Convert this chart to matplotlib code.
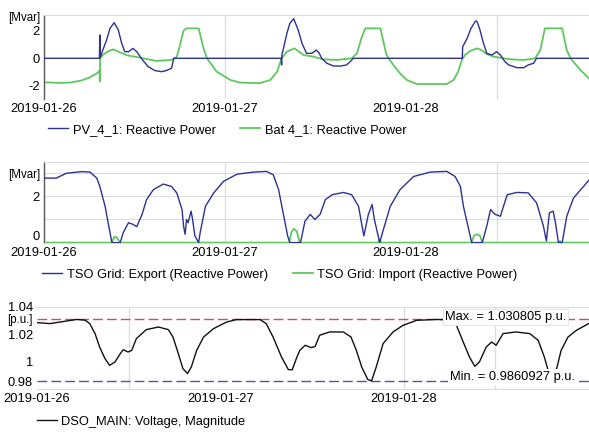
import numpy as np
import matplotlib
matplotlib.use('Agg')
import matplotlib.pyplot as plt
import matplotlib.dates as mdates

plt.rcParams['font.family'] = ['Liberation Sans', 'DejaVu Sans']
plt.rcParams['font.size'] = 9.3

# hours since 2019-01-26 00:00
pv_h = [0, 7.35, 7.4, 7.45, 7.8, 8.3, 8.75, 9.3, 9.85, 10.3, 10.7, 11.2, 11.8, 12.3, 13.0, 13.8, 14.7,
        15.6, 16.2, 16.9, 17.2, 31.45, 31.5, 31.55, 31.7, 32.2, 32.6, 33.1, 33.7, 34.2, 34.8, 35.5,
        36.1, 36.5, 36.8, 37.5, 38.4, 39.3, 40.1, 40.6, 41.0, 55.45, 55.5, 56.1, 56.6, 57.2, 57.4,
        57.8, 58.2, 58.7, 59.4, 60.0, 60.5, 61.1, 61.6, 62.7, 63.6, 64.2, 64.9, 65.3, 72.3]
pv_v = [0, 0, 1.69, 0.05, 0.6, 1.33, 2.17, 2.58, 2.05, 1.09, 0.48, 0.48, 0.72, 0.48, -0.07, -0.6, -0.89,
        -0.97, -0.89, -0.72, 0, 0, -0.48, 0.3, 0.6, 1.81, 2.54, 2.87, 2.05, 1.09, 0.36, 0.36,
        0.6, 0.36, 0, -0.36, -0.56, -0.56, -0.48, -0.24, 0, 0, 0.84, 1.45, 2.17, 2.7, 2.68,
        2.05, 1.2, 0.36, 0.24, 0.48, 0.24, -0.24, -0.48, -0.68, -0.68, -0.48, -0.36, 0, 0]

bat_h = [0, 2.0, 3.5, 5.0, 6.0, 7.0, 7.35, 7.4, 7.45, 7.8, 8.5, 9.2, 10.0, 11.0, 12.7, 14.9, 16.9,
         17.6, 18.0, 18.5, 18.9, 20.5, 21.1, 21.6, 22.9, 24.7, 26.0, 28.6, 30.0, 30.9, 31.5, 32.2,
         33.2, 34.4, 35.7, 37.0, 38.8, 40.8, 41.5, 42.1, 42.6, 44.6, 45.4, 46.3, 47.2, 48.1, 49.4,
         53.4, 54.3, 54.9, 55.4, 55.8, 56.5, 57.4, 58.0, 58.7, 59.6, 60.9, 61.8, 63.6, 65.1, 65.8,
         66.4, 68.7, 69.3, 69.8, 70.9, 72.3]
bat_v = [-1.74, -1.78, -1.76, -1.6, -1.4, -1.1, -0.9, -1.69, 0.0, 0.25, 0.5, 0.65, 0.45, 0.22, 0.05,
         -0.19, -0.12, 0.1, 0.9, 2.0, 2.17, 2.17, 0.82, 0, -0.97, -1.57, -1.76, -1.8, -1.57, -0.97,
         0, 0.48, 0.72, 0.24, 0.12, -0.07, -0.12, 0, 0.36, 1.5, 2.17, 2.17, 0.24, -0.48, -1.09,
         -1.57, -1.86, -1.86, -1.57, -0.97, -0.12, 0.24, 0.53, 0.72, 0.6, 0.3, 0.12, 0, -0.07,
         -0.12, 0, 0.6, 2.17, 2.17, 0.6, 0, -0.72, -1.5]

exp_h = [0, 1.6, 3.0, 5.0, 6.1, 7.0, 7.4, 8.1, 8.5, 9.0, 10.1, 10.5, 11.2, 11.8, 12.3, 13.0, 13.6,
         14.5, 15.8, 16.9, 17.6, 18.3, 18.5, 18.7, 18.9, 19.1, 19.5, 19.7, 20.0, 20.5, 20.7, 21.4,
         22.5, 23.8, 25.6, 27.8, 29.5, 30.4, 31.1, 31.7, 32.3, 32.6, 34.0, 34.6, 35.3, 35.9, 36.6,
         37.3, 38.2, 39.7, 40.8, 41.7, 42.4, 43.0, 43.5, 43.8, 44.1, 44.5, 45.0, 45.9, 47.2, 49.0,
         51.2, 53.4, 54.5, 55.2, 55.6, 56.3, 56.7, 58.1, 58.7, 59.2, 59.8, 60.5, 61.4, 62.7, 64.2,
         65.3, 66.2, 66.6, 67.0, 67.5, 67.8, 68.2, 68.7, 69.3, 70.2, 72.3]
exp_v = [2.79, 2.79, 3.0, 3.07, 3.05, 2.79, 2.43, 1.57, 0.86, 0.0, 0.0, 0.43, 0.86, 0.79, 0.69, 1.22,
         1.86, 2.29, 2.53, 2.43, 2.15, 1.43, 0.72, 0.36, 1.0, 0.86, 1.36, 1.0, 0.29, 0.0, 0.43, 1.57,
         2.15, 2.65, 2.96, 3.05, 3.08, 2.93, 2.29, 1.29, 0.29, 0.0, 0.0, 0.93, 1.22, 1.0, 1.22,
         1.86, 2.07, 2.17, 2.07, 1.57, 0.29, 1.22, 1.65, 1.0, 0.57, 0.0, 0.57, 1.57, 2.29, 2.86,
         3.05, 3.08, 2.86, 2.43, 1.57, 0.57, 0.0, 0.0, 0.72, 1.43, 1.22, 1.14, 2.07, 2.17, 2.15,
         1.72, 0.72, 0.07, 1.29, 1.36, 0.86, 0.0, 0.0, 1.14, 1.93, 2.72]

imp_h = [0, 9.0, 9.3, 9.6, 9.9, 10.1, 32.5, 32.8, 33.1, 33.5, 33.9, 44.3, 44.5, 44.7,
         56.7, 57.0, 57.4, 57.8, 58.1, 68.2, 68.4, 68.6, 72.3]
imp_v = [0, 0, 0.24, 0.24, 0.1, 0, 0, 0.45, 0.6, 0.5, 0, 0, 0.14, 0,
         0, 0.3, 0.36, 0.3, 0, 0, 0.07, 0, 0]

volt_h = [0, 1.7, 3.9, 5.2, 6.3, 6.9, 7.6, 8.2, 8.9, 9.5, 10.2, 10.9, 11.3, 11.9, 12.4, 13.0, 14.3,
          15.9, 17.2, 17.8, 18.5, 19.1, 19.7, 20.2, 20.9, 21.8, 23.1, 24.8, 26.1, 29.2, 30.0, 30.9,
          32.0, 32.9, 33.4, 34.0, 34.4, 35.1, 35.9, 36.4, 37.0, 38.3, 40.1, 41.1, 41.8, 42.5, 43.3,
          43.8, 44.4, 45.3, 46.6, 47.9, 49.7, 52.3, 53.5, 54.4, 54.9, 55.7, 56.6, 57.3, 57.9, 58.8,
          59.5, 60.1, 61.0, 62.7, 64.5, 65.6, 66.4, 66.9, 67.4, 67.97, 68.6, 69.5, 70.6, 72.3]
volt_v = [1.0284, 1.0277, 1.0296, 1.0307, 1.0302, 1.0277, 1.0204, 1.0106, 1.0022, 0.9973, 0.9997,
          1.0058, 1.0087, 1.007, 1.0082, 1.0167, 1.0233, 1.0252, 1.0233, 1.0179, 1.0058, 0.9949,
          0.9913, 0.9961, 1.0082, 1.0179, 1.024, 1.0288, 1.0306, 1.0306, 1.0277, 1.0179, 1.0034,
          0.9942, 0.994, 1.003, 1.0082, 1.0119, 1.0102, 1.011, 1.0192, 1.0216, 1.0216, 1.0179,
          1.0082, 0.9961, 0.9869, 0.9861, 0.9961, 1.0131, 1.0216, 1.0264, 1.0301, 1.0307, 1.0305,
          1.029, 1.0264, 1.0155, 1.0034, 0.9966, 0.9997, 1.0106, 1.0143, 1.0119, 1.0204, 1.0216,
          1.0204, 1.0155, 1.0034, 0.9937, 0.99, 0.9937, 1.0082, 1.0179, 1.0228, 1.028]

day_ticks = ['2019-01-26', '2019-01-27', '2019-01-28']

v_max = 1.030805
v_min = 0.9860927

BLUE = '#2d3290'
GREEN = '#5ec85e'
GRID = '#dcdcdc'

base = np.datetime64('2019-01-26T00:00')


def to_time(hours):
    return base + (np.array(hours) * 60).round().astype(int) * np.timedelta64(1, 'm')


t0 = base
t1 = to_time([72.25])[0]

fig = plt.figure(figsize=(5.89, 4.33), dpi=100)
ax1 = fig.add_axes([0.0747, 0.7707, 0.9253, 0.1947])
ax2 = fig.add_axes([0.0747, 0.4381, 0.9253, 0.1885])
ax3 = fig.add_axes([0.0628, 0.1014, 0.9372, 0.1903])


def style(ax, vgrid, left_spine=True):
    ax.set_xlim(t0, t1)
    ax.set_xticks([np.datetime64(d) for d in day_ticks])
    ax.set_xticklabels(day_ticks)
    ax.tick_params(length=0, pad=3)
    ax.tick_params(axis='x', pad=2.5)
    for s in ['top', 'right', 'bottom']:
        ax.spines[s].set_color(GRID)
        ax.spines[s].set_linewidth(0.8)
    ax.spines['right'].set_visible(False)
    if left_spine:
        ax.spines['left'].set_color('#555555')
        ax.spines['left'].set_linewidth(1.0)
    else:
        ax.spines['left'].set_visible(False)
    for h in vgrid:
        ax.axvline(to_time([h])[0], color=GRID, lw=0.9, zorder=0)


def unit(ax, y, txt):
    ax.annotate(txt, xy=(0, y), xycoords=('axes fraction', 'data'), xytext=(-4, 0),
                textcoords='offset pixels', ha='right', va='center', fontsize=8.3)


# panel 1
style(ax1, [24, 60])
ax1.spines['bottom'].set_visible(False)
ax1.plot(to_time(pv_h), pv_v, color=BLUE, lw=1.0, label='PV_4_1: Reactive Power', zorder=3)
ax1.plot(to_time(bat_h), bat_v, color=GREEN, lw=1.3, label='Bat 4_1: Reactive Power', zorder=2)
ax1.set_ylim(-2.97, 3.14)
ax1.set_yticks([-2, 0, 2])
ax1.set_yticklabels(['-2', '0', '2'])
unit(ax1, 2.9, '[Mvar]')
ax1.legend(loc='center left', bbox_to_anchor=(0.082, 0.700), bbox_transform=fig.transFigure,
           ncol=2, frameon=False, handlelength=1.55, handletextpad=0.35, columnspacing=1.9,
           borderpad=0, borderaxespad=0)

# panel 2
style(ax2, [24, 60])
for y in [1, 2, 3]:
    ax2.axhline(y, color=GRID, lw=0.8, zorder=0)
ax2.plot(to_time(exp_h), exp_v, color=BLUE, lw=1.0, label='TSO Grid: Export (Reactive Power)', zorder=3)
ax2.plot(to_time(imp_h), imp_v, color=GREEN, lw=1.3, label='TSO Grid: Import (Reactive Power)', zorder=2)
ax2.set_ylim(-0.03, 3.5)
ax2.set_yticks([0, 2])
ax2.set_yticklabels(['0', '2'])
ax2.get_yticklabels()[0].set_va('bottom')
unit(ax2, 2.93, '[Mvar]')
ax2.legend(loc='center left', bbox_to_anchor=(0.072, 0.365), bbox_transform=fig.transFigure,
           ncol=2, frameon=False, handlelength=1.55, handletextpad=0.35, columnspacing=1.9,
           borderpad=0, borderaxespad=0)

# panel 3
style(ax3, [12, 48, 60], left_spine=False)
ax3.plot(to_time(volt_h), volt_v, color='#111111', lw=1.0, label='DSO_MAIN: Voltage, Magnitude')
ax3.axhline(v_max, color='#b55a5a', lw=1.0, dashes=(7, 3), zorder=1)
ax3.axhline(v_min, color='#4d5a8c', lw=1.0, dashes=(7, 3), zorder=1)
ax3.set_ylim(0.98, 1.04)
ax3.set_yticks([0.98, 1.0, 1.02, 1.04])
ax3.set_yticklabels(['0.98', '1', '1.02', '1.04'])
ax3.get_yticklabels()[0].set_va('bottom')
unit(ax3, 1.0300, '[p.u.]')
ax3.text(to_time([53.4])[0], 1.0325, 'Max. = %.6f p.u.' % v_max, ha='left', va='center',
         bbox=dict(boxstyle='square,pad=0.15', fc='white', ec='#e6e6e6', lw=0.8), zorder=5)
ax3.text(to_time([54.1])[0], 0.9888, 'Min. = %.7f p.u.' % v_min, ha='left', va='center',
         bbox=dict(boxstyle='square,pad=0.15', fc='white', ec='none'), zorder=5)
ax3.legend(loc='center left', bbox_to_anchor=(0.062, 0.026), bbox_transform=fig.transFigure,
           frameon=False, handlelength=1.55, handletextpad=0.35, borderpad=0, borderaxespad=0)

fig.savefig('out.png', dpi=100)
